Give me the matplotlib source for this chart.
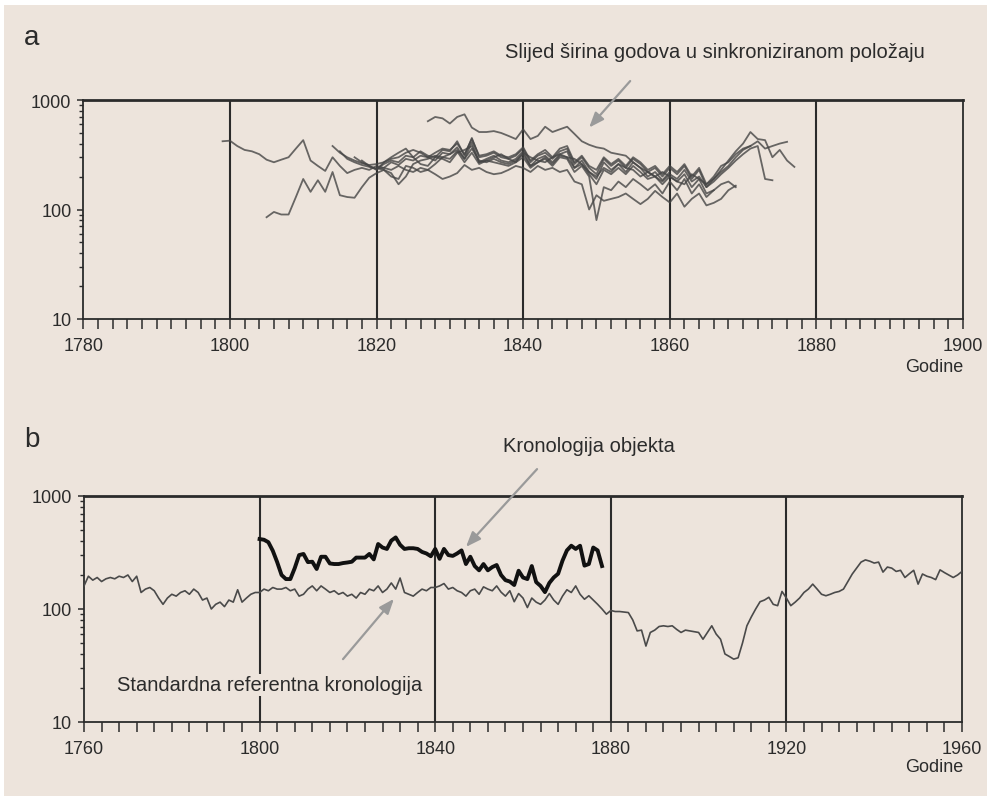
"""Dendrokronološki prikaz: (a) serije širina godova, (b) kronologija objekta vs. standardna."""
import numpy as np
import matplotlib
matplotlib.use("Agg")
import matplotlib.pyplot as plt
from matplotlib import font_manager
from matplotlib.patches import Rectangle
from matplotlib.ticker import FixedLocator, LogLocator, NullFormatter, MultipleLocator

# --- font: uži font ako postoji (original je Myriad-like)
_names = {f.name for f in font_manager.fontManager.ttflist}
FONT = "Liberation Sans" if "Liberation Sans" in _names else "DejaVu Sans"
plt.rcParams["font.family"] = [FONT, "DejaVu Sans"]

BG = "#ede4dc"
INK = "#2b2b2b"
ARROW = "#9a9a9a"

# --- panel a: serije širina godova (početna godina, vrijednosti po godini)
a1_start = 1799
a1 = [420, 425, 380, 350, 340, 320, 285, 270, 285, 300, 360, 430, 280, 250, 225, 300,
      250, 215, 230, 240, 230, 250, 240, 270, 255, 290, 280, 310, 300, 280, 330, 320,
      370, 290, 410, 270, 290, 310, 280, 270, 290, 340, 250, 290, 310, 270, 320, 340,
      240, 280, 220, 190, 270, 230, 260, 220, 270, 240, 200, 220, 185, 220]
a2_start = 1805
a2 = [85, 95, 90, 90, 130, 190, 145, 185, 145, 220, 135, 130, 128, 160, 195, 215,
      230, 200, 190, 250, 240, 220, 230, 260, 300, 290, 340, 270, 330, 260, 280, 270,
      260, 250, 270, 300, 240, 270, 290, 250, 300, 290, 220, 250, 200, 80, 160, 150,
      180, 160, 190, 170, 150, 170, 140, 180, 150, 190, 140, 170, 130, 150, 170, 180, 160]
a3_start = 1827
a3 = [640, 700, 680, 610, 700, 740, 560, 510, 510, 520, 500, 470, 440, 540, 440, 470,
      570, 510, 540, 570, 490, 420, 390, 370, 360, 330, 320, 310, 270, 240, 220, 200,
      180, 210, 190, 230, 180, 200, 160, 190, 230, 280, 340, 400, 510, 440, 430, 300,
      350, 280, 245]
a4_start = 1814
a4 = [380, 330, 300, 280, 265, 255, 260, 270, 290, 300, 330, 350, 330, 300, 330, 360,
      350, 400, 320, 440, 310, 320, 340, 310, 300, 320, 370, 280, 320, 350, 300, 360,
      380, 270, 310, 250, 230, 300, 260, 290, 250, 300, 270, 230, 250, 210, 250, 220,
      260, 200, 240, 170, 190, 220, 250, 300, 350, 380, 420, 360, 380, 400, 415]
a5_start = 1815
a5 = [340, 290, 270, 255, 245, 235, 260, 280, 270, 310, 300, 340, 310, 300, 350, 340,
      420, 310, 450, 300, 310, 330, 300, 290, 310, 360, 270, 310, 330, 290, 340, 360,
      260, 300, 240, 210, 290, 250, 280, 240, 290, 260, 220, 240, 200, 240, 210, 250,
      190, 230, 160, 180, 210, 240, 280, 320, 360, 380, 190, 185]
a6_start = 1818
a6 = [280, 250, 235, 240, 230, 250, 230, 220, 240, 230, 210, 190, 200, 215, 255, 230,
      240, 220, 210, 215, 230, 250, 240, 220, 250, 230, 240, 220, 230, 180, 170, 100,
      135, 120, 125, 130, 140, 125, 112, 125, 148, 130, 116, 140, 106, 125, 140, 109,
      115, 125, 150, 165]
a7_start = 1817
a7 = [300, 270, 250, 230, 270, 300, 330, 360, 300, 260, 250, 300, 290, 270, 330, 350,
      380, 270, 280, 300, 320, 290, 270, 330, 300, 280, 270, 300, 320, 300, 290, 260,
      220, 200, 240, 220, 260, 240, 230, 200, 220, 200, 220, 200, 180, 170, 210, 190,
      170, 200, 250, 270, 320, 360, 380]
a8_start = 1820
a8 = [240, 230, 215, 170, 200, 260, 280, 290, 310, 300, 320, 350, 290, 360, 280, 270,
      290, 270, 260, 280, 320, 250, 270, 300, 260, 310, 300, 240, 260, 210, 170, 230,
      210, 240, 210, 250, 220, 190, 200, 170, 200, 180, 210, 160, 190, 140, 150]
series_a = [(a1_start, a1), (a2_start, a2), (a3_start, a3), (a4_start, a4),
            (a5_start, a5), (a6_start, a6), (a7_start, a7), (a8_start, a8)]

# --- panel b: standardna referentna kronologija 1760-1960
ref_start = 1760
ref = [160, 195, 180, 190, 175, 185, 190, 185, 195, 190, 200, 175, 195, 140, 150, 155,
       145, 125, 110, 125, 135, 130, 140, 145, 135, 150, 140, 120, 125, 100, 110, 115,
       105, 120, 115, 148, 115, 125, 135, 140, 140, 150, 145, 155, 150, 150, 155, 145,
       150, 130, 135, 150, 160, 145, 160, 150, 140, 145, 135, 140, 130, 135, 125, 140,
       135, 150, 145, 160, 140, 150, 170, 150, 188, 140, 135, 130, 140, 150, 145, 155,
       155, 160, 168, 150, 155, 145, 140, 130, 145, 150, 135, 157, 150, 145, 160, 141,
       130, 145, 116, 137, 125, 103, 125, 115, 110, 120, 137, 120, 110, 130, 148, 140,
       160, 135, 122, 131, 120, 110, 100, 90, 97, 95, 95, 94, 93, 80, 64, 65,
       47, 62, 65, 70, 71, 70, 71, 66, 62, 65, 64, 63, 62, 54, 62, 71,
       60, 54, 40, 38, 36, 37, 50, 71, 85, 100, 116, 120, 127, 110, 107, 143,
       125, 107, 115, 125, 140, 150, 166, 150, 135, 131, 135, 140, 143, 150, 175, 204,
       230, 260, 272, 265, 255, 260, 212, 235, 230, 215, 220, 190, 205, 220, 166, 204,
       195, 190, 182, 222, 210, 200, 190, 200, 215]
# kronologija objekta 1800-1878
obj_start = 1800
obj = [416, 410, 390, 328, 260, 200, 184, 184, 230, 300, 307, 260, 262, 226, 290, 290,
       253, 250, 250, 255, 258, 262, 285, 285, 285, 307, 275, 376, 350, 340, 403, 430,
       370, 340, 345, 345, 340, 320, 310, 293, 340, 278, 340, 300, 295, 310, 330, 250,
       290, 240, 220, 250, 220, 235, 245, 200, 180, 175, 163, 218, 190, 184, 240, 173,
       160, 141, 170, 190, 205, 268, 330, 363, 340, 363, 242, 250, 350, 330, 240]

W, H = 991, 803


def fx(px):
    return px / W


def fy(py):
    return 1 - py / H


def style_axes(ax, x0, x1, major, minor):
    ax.set_facecolor(BG)
    ax.set_yscale("log")
    ax.set_ylim(10, 1000)
    ax.set_xlim(x0, x1)
    ax.yaxis.set_major_locator(FixedLocator([10, 100, 1000]))
    ax.set_yticklabels(["10", "100", "1000"])
    ax.yaxis.set_minor_locator(LogLocator(base=10, subs=np.arange(2, 10)))
    ax.yaxis.set_minor_formatter(NullFormatter())
    ax.xaxis.set_major_locator(MultipleLocator(major))
    ax.xaxis.set_minor_locator(MultipleLocator(minor))
    ax.tick_params(axis="x", which="both", direction="out", length=7, width=1.1,
                   color=INK, labelsize=13, pad=6, labelcolor=INK)
    ax.tick_params(axis="y", which="major", direction="out", length=4.5, width=1.1,
                   color=INK, labelsize=13, pad=4, labelcolor=INK)
    ax.tick_params(axis="y", which="minor", direction="out", length=3, width=1.0, color=INK)
    for s in ax.spines.values():
        s.set_color(INK)
        s.set_linewidth(1.3)
    ax.spines["top"].set_linewidth(2.0)
    for yr in np.arange(x0 + major, x1, major):
        ax.axvline(yr, color=INK, lw=1.5, zorder=1)


fig = plt.figure(figsize=(W / 100, H / 100), dpi=100, facecolor="white")
# bež podloga s tankim bijelim rubom (ispod osi)
fig.patches.append(Rectangle((fx(4), fy(797)), fx(983), fy(6) - fy(797),
                             transform=fig.transFigure, facecolor=BG, edgecolor="none",
                             zorder=-10))

ARROW_PROPS = dict(arrowstyle="-|>,head_length=0.9,head_width=0.35",
                   color=ARROW, lw=1.6, shrinkA=0, shrinkB=0)

# --- panel a
ax_a = fig.add_axes([fx(83.3), fy(320), fx(963 - 83.3), fy(101) - fy(320)])
style_axes(ax_a, 1780, 1900, 20, 2)
for start, vals in series_a:
    yrs = np.arange(start, start + len(vals))
    ax_a.plot(yrs, vals, color="#454545", lw=1.3, alpha=0.8, zorder=3)
ax_a.annotate("", xy=(1849.0, 560), xytext=(1854.6, 1490), xycoords="data",
              arrowprops=ARROW_PROPS, annotation_clip=False, zorder=5)
fig.text(fx(505), fy(52), "Slijed širina godova u sinkroniziranom položaju",
         ha="left", va="center", fontsize=14.5, color=INK)
fig.text(fx(24), fy(38), "a", ha="left", va="center", fontsize=20, color=INK)
fig.text(fx(963), fy(367), "Godine", ha="right", va="center", fontsize=13, color=INK)

# --- panel b
ax_b = fig.add_axes([fx(84), fy(723), fx(962 - 84), fy(497) - fy(723)])
style_axes(ax_b, 1760, 1960, 40, 4)
ax_b.plot(np.arange(ref_start, ref_start + len(ref)), ref, color="#4a4a4a", lw=1.2, zorder=3)
ax_b.plot(np.arange(obj_start, obj_start + len(obj)), obj, color="#111111", lw=2.8,
          solid_joinstyle="round", zorder=4)
ax_b.annotate("", xy=(1847.0, 354), xytext=(1863.2, 1730), xycoords="data",
              arrowprops=ARROW_PROPS, annotation_clip=False, zorder=5)
ax_b.annotate("", xy=(1830.6, 123), xytext=(1819.0, 36), xycoords="data",
              arrowprops=ARROW_PROPS, annotation_clip=False, zorder=5)
fig.text(fx(503), fy(447), "Kronologija objekta", ha="left", va="center",
         fontsize=14.5, color=INK)
ax_b.text(fx(117), fy(686), "Standardna referentna kronologija", transform=fig.transFigure,
          ha="left", va="center", fontsize=14.5, color=INK, zorder=6,
          bbox=dict(facecolor=BG, edgecolor="none", pad=1))
fig.text(fx(24), fy(440), "b", ha="left", va="center", fontsize=20, color=INK)
fig.text(fx(963), fy(768), "Godine", ha="right", va="center", fontsize=13, color=INK)

fig.savefig("out.png", dpi=100, facecolor=fig.get_facecolor())
